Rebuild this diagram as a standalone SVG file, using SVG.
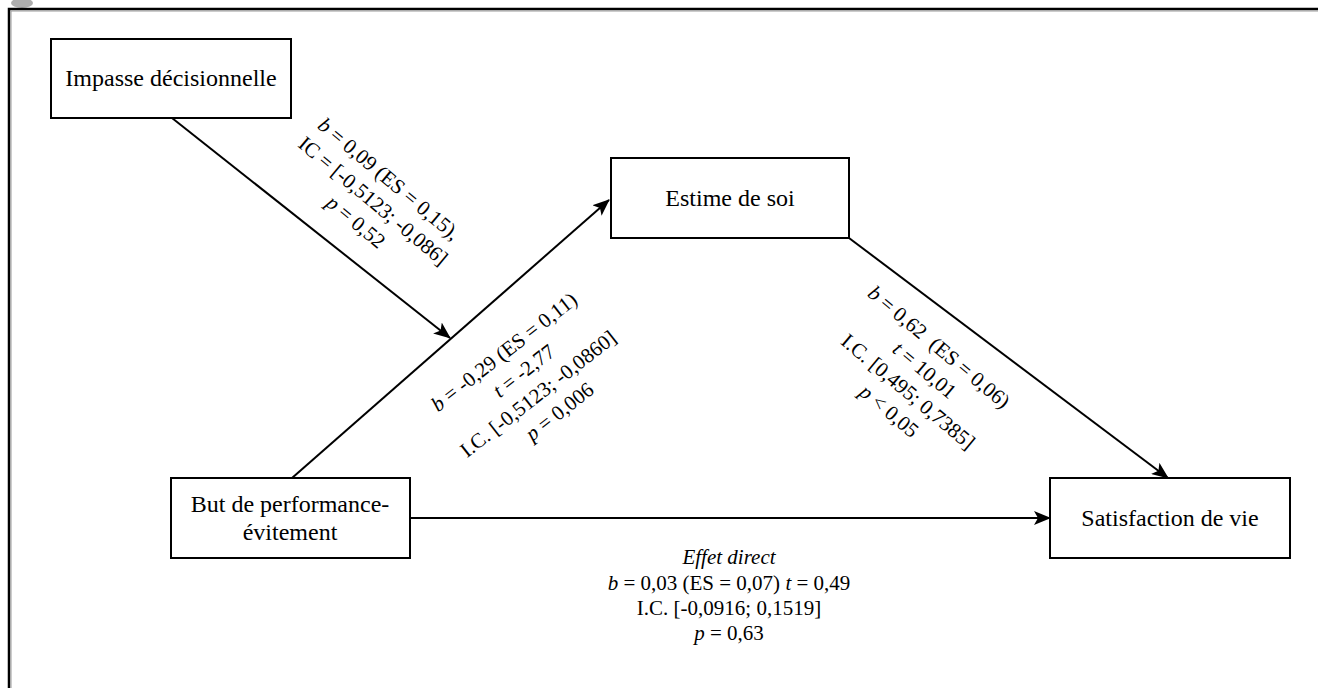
<svg xmlns="http://www.w3.org/2000/svg" width="1318" height="688" viewBox="0 0 1318 688">
<defs>
<style>
.box{fill:#fff;stroke:#000;stroke-width:2}
.nt{font-family:"Liberation Serif","Times New Roman",serif;font-size:24px;fill:#000;text-anchor:middle}
.lt{font-family:"Liberation Serif","Times New Roman",serif;font-size:21px;fill:#000;text-anchor:middle}
.con{stroke:#000;stroke-width:2;fill:none;marker-end:url(#arr)}
</style>
<marker id="arr" markerUnits="userSpaceOnUse" markerWidth="18" markerHeight="14" refX="16" refY="7" orient="auto">
<path d="M0,0 L17,7 L0,14 L4,7 z" fill="#000"/>
</marker>
</defs>
<rect width="1318" height="688" fill="#fff"/>
<ellipse cx="22" cy="3" rx="11" ry="5" fill="#777" opacity="0.6"/>
<path d="M9,700 V9 H1330" fill="none" stroke="#000" stroke-width="2.5"/>
<path d="M11,700 V11 H1330" fill="none" stroke="#999" stroke-width="1"/>

<g id="connectors">
<line class="con" x1="172" y1="118" x2="450" y2="338"/>
<line class="con" x1="292" y1="478" x2="609" y2="200"/>
<line class="con" x1="849" y1="238" x2="1168" y2="478"/>
<line class="con" x1="410" y1="518" x2="1050" y2="518"/>
</g>

<g id="node-impasse">
<rect class="box" x="51" y="39" width="240" height="79"/>
<text class="nt" x="171" y="86">Impasse décisionnelle</text>
</g>
<g id="node-estime">
<rect class="box" x="611" y="158" width="238" height="80"/>
<text class="nt" x="730" y="206">Estime de soi</text>
</g>
<g id="node-but">
<rect class="box" x="171" y="478" width="239" height="80"/>
<text class="nt" x="290" y="512">But de performance-</text>
<text class="nt" x="290" y="540">évitement</text>
</g>
<g id="node-satisfaction">
<rect class="box" x="1050" y="478" width="240" height="80"/>
<text class="nt" x="1170" y="526">Satisfaction de vie</text>
</g>

<g id="label-impasse" transform="translate(389,179) rotate(40)">
<text class="lt" x="0" y="7"><tspan font-style="italic">b</tspan> = 0,09 (ES = 0,15),</text>
<text class="lt" x="2" y="34">IC = [-0,5123; -0,086]</text>
<text class="lt" x="2" y="61"><tspan font-style="italic">p</tspan> = 0,52</text>
</g>
<g id="label-but-estime" transform="translate(504,352) rotate(-38)">
<text class="lt" x="0" y="7"><tspan font-style="italic">b</tspan> = -0,29 (ES = 0,11)</text>
<text class="lt" x="4" y="34"><tspan font-style="italic">t</tspan> = -2,77</text>
<text class="lt" x="1" y="61">I.C. [-0,5123; -0,0860]</text>
<text class="lt" x="7" y="88"><tspan font-style="italic">p</tspan> = 0,006</text>
</g>
<g id="label-estime-sat" transform="translate(939,347) rotate(40)">
<text class="lt" x="0" y="7"><tspan font-style="italic">b</tspan> = 0,62&#160; (ES = 0,06)</text>
<text class="lt" x="4" y="34"><tspan font-style="italic">t</tspan> = 10,01</text>
<text class="lt" x="5" y="61">I.C. [0,495; 0,7385]</text>
<text class="lt" x="3" y="88"><tspan font-style="italic">p</tspan> &lt; 0,05</text>
</g>
<g id="label-direct">
<text class="lt" x="729" y="564" font-style="italic">Effet direct</text>
<text class="lt" x="729" y="590"><tspan font-style="italic">b</tspan> = 0,03 (ES = 0,07) <tspan font-style="italic">t</tspan> = 0,49</text>
<text class="lt" x="729" y="615">I.C. [-0,0916; 0,1519]</text>
<text class="lt" x="729" y="640"><tspan font-style="italic">p</tspan> = 0,63</text>
</g>
</svg>
